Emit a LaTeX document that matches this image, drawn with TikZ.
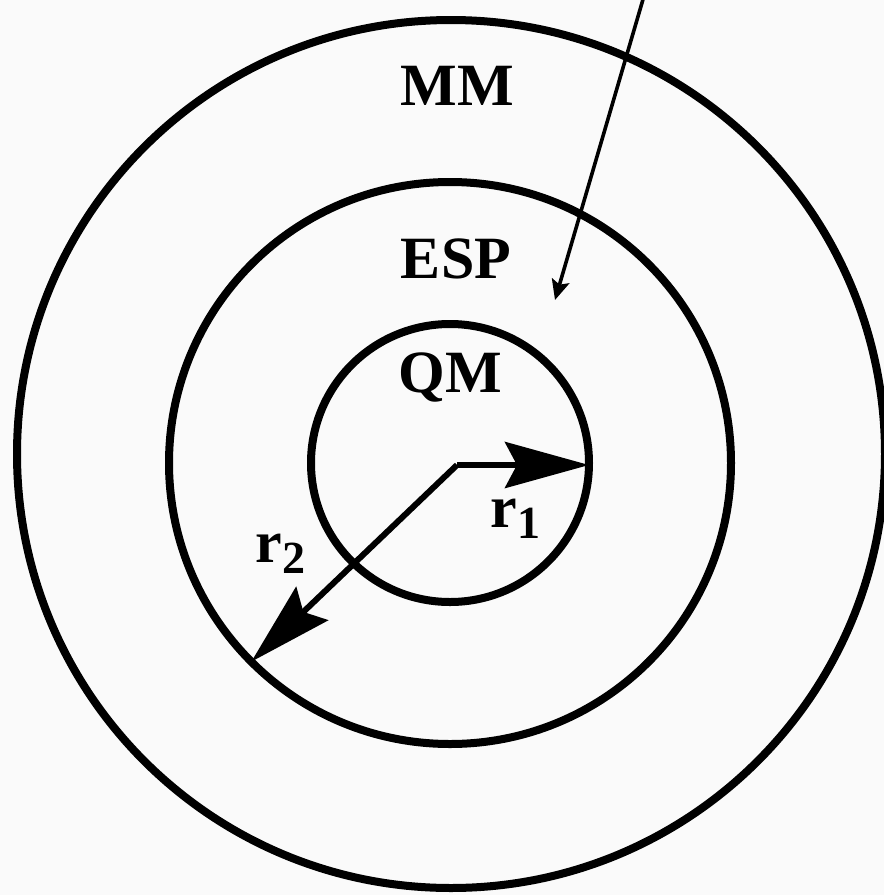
\documentclass[tikz,border=0pt]{standalone}
\usepackage{fontspec}
\setmainfont{Liberation Serif}
\usepackage{tikz}
\usetikzlibrary{arrows.meta,positioning}
\definecolor{bgcol}{HTML}{FAFAFA}
\newcommand{\rsub}[1]{{\fontsize{23pt}{23pt}\selectfont\raisebox{-5.5pt}{#1}}}

\begin{document}
\begin{tikzpicture}[x=0.5pt, y=-0.5pt,
  ring/.style={draw, circle, line width=4pt, inner sep=0pt, outer sep=0pt},
  radarrow/.style={-{Stealth[length=42pt, width=23pt, inset=6pt]}, line width=3pt},
  pointer/.style={-{Stealth[length=10pt, width=9pt, inset=2pt]}, line width=1.8pt},
  lbl/.style={font=\fontsize{30pt}{30pt}\selectfont\bfseries, anchor=base, inner sep=0pt}
]
  \fill[bgcol] (0,0) rectangle (884,895);
  \useasboundingbox (0,0) rectangle (884,895);

  % rings
  \node[ring, minimum size=434pt] (mm) at (451,454) {};
  \node[ring, minimum size=281pt] (esp) at (450,463) {};
  \node[ring, minimum size=139pt] (qm) at (450,463) {};

  % region labels
  \node[lbl] (mmlbl) at (457,105) {MM};
  \node[lbl] (esplbl) at (456,278) {ESP};
  \node[lbl] (qmlbl) at (450,392) {QM};

  % radii
  \coordinate (o) at (457,465);
  \draw[radarrow] (o) -- (o -| qm.east);
  \draw[radarrow] (o) -- (esp.south west);
  \node[lbl, anchor=base west] (r1) at (490,527) {r\rsub{1}};
  \node[lbl, anchor=base west] (r2) at (255,562) {r\rsub{2}};

  % pointer from outside
  \coordinate (src) at (644,-4);
  \coordinate (tgt) at (555,300);
  \draw[pointer] (src) -- (tgt);
\end{tikzpicture}
\end{document}
